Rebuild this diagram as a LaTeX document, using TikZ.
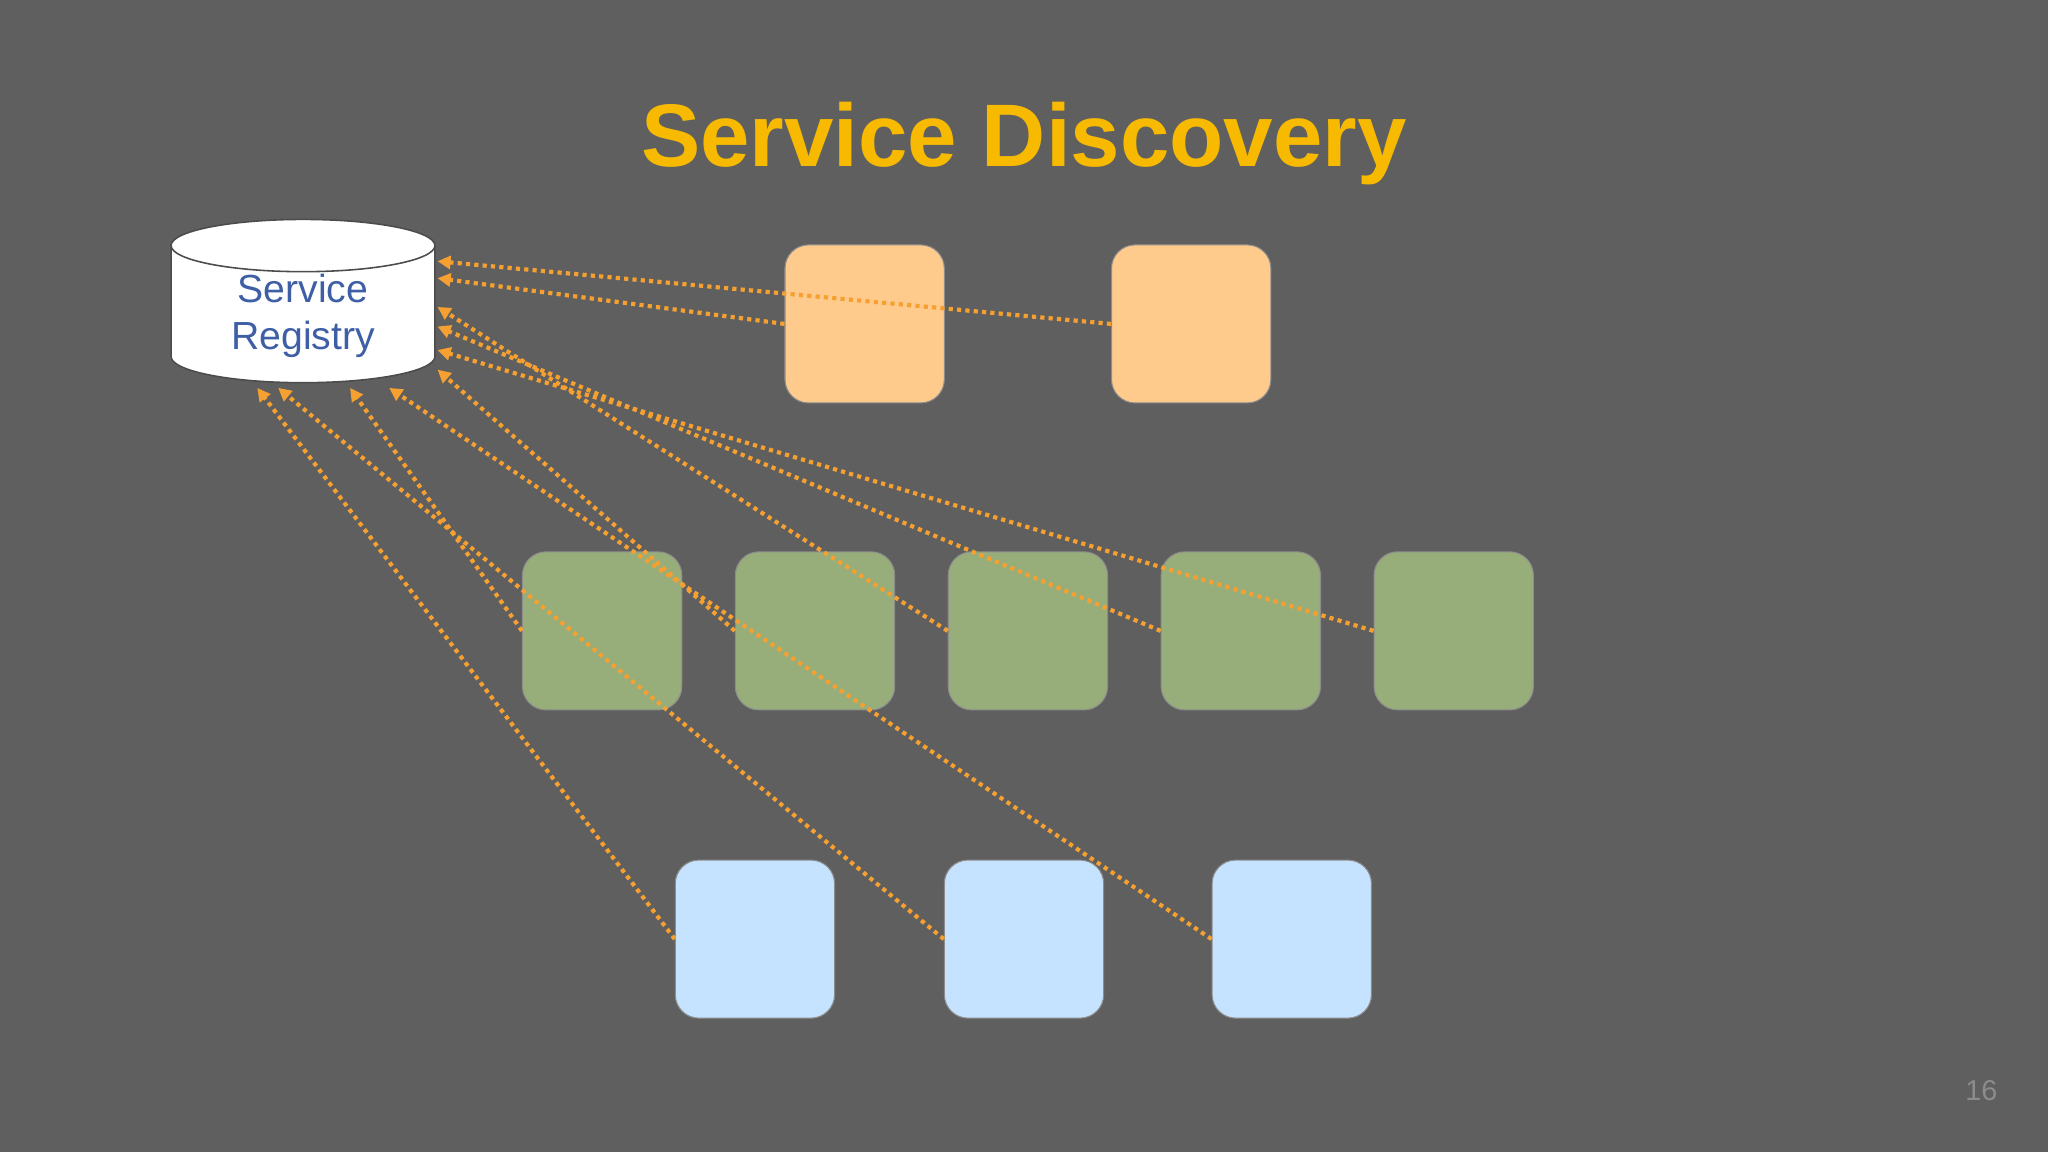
\documentclass[tikz,border=0pt]{standalone}
\usepackage{fontspec}
\setmainfont{Liberation Sans}
\usetikzlibrary{shapes.geometric,arrows.meta}
\definecolor{bg}{HTML}{5F5F5F}
\definecolor{tit}{HTML}{F7BA00}
\definecolor{orb}{HTML}{FFCB8C}
\definecolor{grb}{HTML}{97AE7A}
\definecolor{blb}{HTML}{C5E2FF}
\definecolor{arr}{HTML}{F5A030}
\definecolor{regt}{HTML}{3E5FA6}
\definecolor{pgc}{HTML}{8C8C8C}
\tikzset{
 svc/.style={rounded corners=9pt,minimum width=61pt,minimum height=60.5pt,inner sep=0pt,draw=black!45,line width=0.4pt},
 link/.style={draw=arr,line width=1.6pt,dash pattern=on 1.6pt off 1.6pt,-{Triangle[length=5pt,width=5pt]}}
}
\begin{document}
\begin{tikzpicture}[x=0.5pt,y=-0.5pt]
\fill[bg] (0,0) rectangle (1568,882);
\node[text=tit,font=\bfseries\fontsize{34}{38}\selectfont] (title) at (784,110) {Service Discovery};
% registry cylinder
\fill[white,draw=black!70,line width=0.6pt] (131,188) -- (131,273) arc[start angle=180,end angle=0,x radius=101,y radius=20] -- (333,188) arc[start angle=0,end angle=-180,x radius=101,y radius=20] -- cycle;
\draw[black!70,line width=0.6pt] (131,188) arc[start angle=180,end angle=0,x radius=101,y radius=20];
\node[text=regt,font=\fontsize{15}{18}\selectfont,align=center] (reg) at (232,242) {Service\\Registry};
\coordinate (r1) at (335,200);\coordinate (r2) at (335,213);
\coordinate (r3) at (335,235);\coordinate (r4) at (335,250);
\coordinate (r5) at (335,268);\coordinate (r6) at (335,283);
\coordinate (b1) at (197,297);\coordinate (b2) at (213,297);
\coordinate (b3) at (268,297);\coordinate (b4) at (298,297);
% boxes
\node[svc,fill=orb] (o1) at (662,248) {};
\node[svc,fill=orb] (o2) at (912,248) {};
\foreach \n/\x in {g1/461,g2/624,g3/787,g4/950,g5/1113}
  \node[svc,fill=grb] (\n) at (\x,483) {};
\foreach \n/\x in {u1/578,u2/784,u3/989}
  \node[svc,fill=blb] (\n) at (\x,719) {};
% links
\draw[link] (o1.west) -- (r2);
\draw[link] (o2.west) -- (r1);
\draw[link] (g1.west) -- (b3);
\draw[link] (g2.west) -- (r6);
\draw[link] (g3.west) -- (r3);
\draw[link] (g4.west) -- (r4);
\draw[link] (g5.west) -- (r5);
\draw[link] (u1.west) -- (b1);
\draw[link] (u2.west) -- (b2);
\draw[link] (u3.west) -- (b4);
\node[text=pgc,font=\fontsize{11}{13}\selectfont] (pg) at (1517,835) {16};
\end{tikzpicture}
\end{document}
